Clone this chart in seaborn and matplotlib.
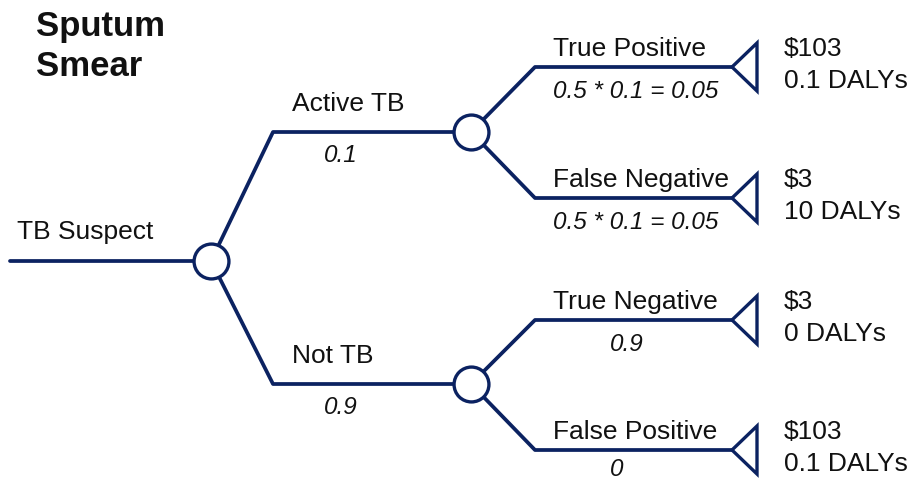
#!/usr/bin/env python3
"""
Arbre de décision : frottis d'expectoration (TB)
"""

import pandas as pd
import matplotlib.pyplot as plt
from matplotlib.patches import Polygon
import seaborn as sns

sns.set_theme(style="white")
plt.rcParams['font.family'] = ['Liberation Sans', 'DejaVu Sans']

# Données
title_lines = ["Sputum", "Smear"]
root_label = "TB Suspect"
chance_labels = ["Active TB", "Not TB"]
chance_probs = ["0.1", "0.9"]
outcome_labels = ["True Positive", "False Negative", "True Negative", "False Positive"]
outcome_probs = ["0.5 * 0.1 = 0.05", "0.5 * 0.1 = 0.05", "0.9", "0"]
costs = [103, 3, 3, 103]
dalys = [0.1, 10, 0, 0.1]

# Mise en page (coordonnées en pixels, y vers le bas)
NAVY = '#0b2261'
TXT = '#111111'
root_start_x, root_x, root_y = 10, 211, 261
lvl1_corner_x, lvl1_x = 273, 471
lvl1_y = [132, 384]
lvl2_corner_x, leaf_x = 535, 732
leaf_y = [67, 198, 320, 450]
parent = [0, 0, 1, 1]

# Segments de l'arbre
rows = []
seg = 0
rows += [(seg, root_start_x, root_y), (seg, root_x, root_y)]
for y in lvl1_y:
    seg += 1
    rows += [(seg, root_x, root_y), (seg, lvl1_corner_x, y), (seg, lvl1_x, y)]
for p, y in zip(parent, leaf_y):
    seg += 1
    rows += [(seg, lvl1_x, lvl1_y[p]), (seg, lvl2_corner_x, y), (seg, leaf_x, y)]
edges = pd.DataFrame(rows, columns=['seg', 'x', 'y'])

nodes = pd.DataFrame({'x': [root_x] + [lvl1_x] * len(lvl1_y),
                      'y': [root_y] + lvl1_y})

fig = plt.figure(figsize=(9.13, 4.82), dpi=100)
ax = fig.add_axes([0, 0, 1, 1])

sns.lineplot(data=edges, x='x', y='y', units='seg', estimator=None, sort=False,
             color=NAVY, linewidth=2.7, ax=ax, legend=False, zorder=1)
sns.scatterplot(data=nodes, x='x', y='y', marker='o', s=630, color='white',
                edgecolor=NAVY, linewidth=2.4, ax=ax, legend=False, zorder=3)

# Noeuds terminaux (triangles)
for y in leaf_y:
    tri = Polygon([(leaf_x, y), (leaf_x + 25, y - 24), (leaf_x + 25, y + 24)],
                  closed=True, fc='white', ec=NAVY, lw=2.4, zorder=3)
    ax.add_patch(tri)

# Titre
ax.text(36, 36, title_lines[0], fontsize=25, fontweight='bold', color=TXT, va='baseline')
ax.text(36, 76, title_lines[1], fontsize=25, fontweight='bold', color=TXT, va='baseline')

ax.text(17, 239, root_label, fontsize=19, color=TXT, va='baseline')

for lab, pr, y in zip(chance_labels, chance_probs, lvl1_y):
    ax.text(292, y - 21, lab, fontsize=19, color=TXT, va='baseline')
    ax.text(324, y + 30, pr, fontsize=17.5, style='italic', color=TXT, va='baseline')

for i, (lab, pr, y) in enumerate(zip(outcome_labels, outcome_probs, leaf_y)):
    ax.text(553, y - 11, lab, fontsize=19, color=TXT, va='baseline')
    px = 553 if len(pr) > 4 else 610
    py = min(y + 31, 476)
    ax.text(px, py, pr, fontsize=17.5, style='italic', color=TXT, va='baseline')
    ax.text(784, y - 11, f"${costs[i]}", fontsize=19, color=TXT, va='baseline')
    ax.text(784, y + 21, f"{dalys[i]:g} DALYs", fontsize=19, color=TXT, va='baseline')

ax.set_xlim(0, 913)
ax.set_ylim(482, 0)
ax.axis('off')

plt.savefig('out.png', dpi=100)
plt.close()
